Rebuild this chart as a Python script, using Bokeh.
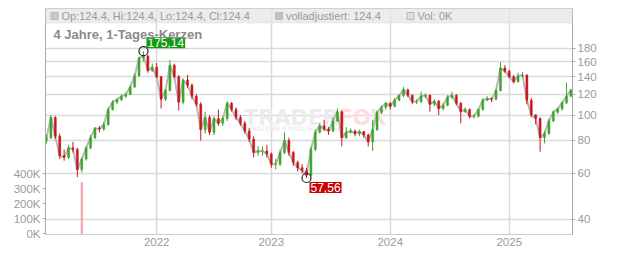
import math
from bokeh.plotting import figure
from bokeh.models import (Range1d, LinearAxis, FixedTicker, Label, BoxAnnotation,
                          ColumnDataSource, PrintfTickFormatter, LinearScale)
from bokeh.embed import file_html
from bokeh.resources import INLINE

# ---------------- data ----------------
opens = [80, 82, 98, 83, 70, 69, 75, 74, 62, 68,
         75, 82, 89, 88.5, 92, 105, 112, 114.5, 118, 120,
         128, 141, 165, 168, 148, 152, 140, 115, 124, 155,
         140, 112, 136, 130, 118, 110, 88, 98, 86, 97,
         93, 97, 111, 105, 98, 93, 87, 81, 72, 73,
         73, 71, 65, 65, 72, 80, 72, 66, 63, 61.5,
         59, 74, 86, 91, 88.5, 87, 95, 103, 82, 86,
         87, 85, 86.5, 84, 79, 88, 102.5, 107, 111, 108,
         114, 118.7, 125, 119, 112.5, 112.5, 118, 119, 110, 113,
         106, 109, 117, 119, 111, 103, 105, 99, 99, 105,
         114, 115.5, 115, 124, 151, 147, 140, 134, 141, 142,
         114, 100, 97, 82, 85, 95, 102.6, 105.6, 111.5, 118]
highs = [84, 100, 99, 85, 74, 77, 79, 75, 69, 76,
         84, 90, 91, 94, 107, 114, 116, 120, 122, 130,
         144, 167, 175.14, 170, 157, 158, 141, 126, 162, 157,
         142, 138, 142, 132, 120, 112, 103, 100, 99, 105,
         99, 113, 112, 107, 100, 95, 89, 83, 76, 76,
         77, 72, 68, 74, 86, 82, 73, 67, 65, 63,
         76, 88, 93, 96, 90, 98, 106, 104, 90, 89,
         88, 88, 87, 85, 96, 104, 109, 112, 112, 116,
         120, 128, 126, 120, 115, 123, 121, 120, 115, 114,
         111, 119, 123, 120, 112, 107, 106, 101, 106, 116,
         118, 117, 126, 159, 155, 149, 142, 145, 146, 143,
         116, 101, 98, 87, 97, 104, 107, 113, 133, 126]
lows = [78, 81, 81, 68, 67, 68, 72, 58, 60.5, 67,
        74, 81, 86, 87, 91, 104, 110, 113, 116, 119,
        127, 140, 160, 145, 146, 138, 106, 113, 123, 138,
        104, 110, 127, 115, 108, 80, 85, 84, 84, 91,
        91, 95, 103, 96, 91, 85, 79, 69, 70, 70,
        69, 63, 62, 64, 71, 70, 64, 61, 60, 57.56,
        58.5, 73, 85, 87, 84, 86, 94, 76, 81, 85,
        83, 83, 82, 76, 73, 87, 101, 105, 105, 107,
        113, 117, 117, 110, 110, 111, 116, 103, 108, 100,
        104, 108, 115, 109, 93, 102, 97, 97, 98, 104,
        113, 112, 114, 123, 145, 138, 132, 133, 139, 110,
        98, 92, 72.5, 78, 84, 94, 101, 104, 110, 117]
closes = [82, 98, 83, 70, 69, 75, 74, 62, 68, 75,
          82, 89, 88.5, 92, 105, 112, 114.5, 118, 120, 128,
          141, 165, 168, 148, 152, 140, 115, 124, 155, 140,
          112, 136, 130, 118, 110, 88, 98, 86, 97, 93,
          97, 111, 105, 98, 93, 87, 81, 72, 73, 73,
          71, 65, 65, 72, 80, 72, 66, 63, 61.5, 59,
          74, 86, 91, 88.5, 87, 95, 103, 82, 86, 87,
          85, 86.5, 84, 79, 88, 102.5, 107, 111, 108, 114,
          118.7, 125, 119, 112.5, 112.5, 118, 119, 110, 113, 106,
          109, 117, 119, 111, 103, 105, 99, 99, 105, 114,
          115.5, 115, 124, 151, 147, 140, 134, 141, 142, 114,
          100, 97, 82, 85, 95, 102.6, 105.6, 111.5, 118, 124.4]
candle_index = list(range(len(closes)))

year_labels = ["2022", "2023", "2024", "2025"]
year_first_candle = [25, 51, 78, 105]
price_ticks = [40, 60, 80, 100, 120, 140, 160, 180]
volume_ticks = [0, 100000, 200000, 300000, 400000]
volume_tick_labels = ["0K", "100K", "200K", "300K", "400K"]
volume_candle = [8]
volume_values = [340000]

# ---------------- layout constants ----------------
W, H = 632, 253
FRAME_L, FRAME_R, FRAME_T, FRAME_B = 45, 572, 8, 234
X_LO, X_HI = -0.227, 119.35
Y_LO, Y_HI = 35.06, 254.8
VOL_LO, VOL_HI = -6000, 1500000
FONT = "Liberation Sans"
GREEN, RED = "#3da52a", "#c8161d"


def x_at(px):
    return X_LO + (px - FRAME_L) / (FRAME_R - FRAME_L) * (X_HI - X_LO)


def y_at(py):
    return math.exp(math.log(Y_LO) + (FRAME_B - py) / (FRAME_B - FRAME_T)
                    * (math.log(Y_HI) - math.log(Y_LO)))


p = figure(width=W, height=H, x_range=Range1d(X_LO, X_HI), y_range=Range1d(Y_LO, Y_HI),
           y_axis_type="log", y_axis_location="right", toolbar_location=None,
           output_backend="svg",
           min_border_left=FRAME_L, min_border_right=W - FRAME_R,
           min_border_top=FRAME_T, min_border_bottom=H - FRAME_B)
p.outline_line_color = "#cccccc"
p.background_fill_color = "white"
p.border_fill_color = "white"

# price axis (right)
yax = p.yaxis[0]
price_ticker = FixedTicker(ticks=price_ticks, minor_ticks=[])
yax.ticker = price_ticker
yax.formatter = PrintfTickFormatter(format="%d")
# x axis
xax = p.xaxis[0]
year_ticker = FixedTicker(ticks=year_first_candle, minor_ticks=[])
xax.ticker = year_ticker
xax.major_label_overrides = {k: v for k, v in zip(year_first_candle, year_labels)}
xax.major_tick_out = 0
xax.major_tick_in = 0
xax.major_label_standoff = 3
xax.axis_line_color = "#cccccc"

# volume axis (left), linear
p.extra_y_ranges = {"vol": Range1d(VOL_LO, VOL_HI)}
p.extra_y_scales = {"vol": LinearScale()}
vax = LinearAxis(y_range_name="vol", ticker=FixedTicker(ticks=volume_ticks, minor_ticks=[]),
                 major_label_overrides={k: v for k, v in zip(volume_ticks, volume_tick_labels)})
p.add_layout(vax, "left")

for ax in (yax, vax):
    ax.axis_line_color = "#aaaaaa"
    ax.major_tick_line_color = "#aaaaaa"
    ax.major_tick_out = 3
    ax.major_tick_in = 0
    ax.major_label_standoff = 2
for ax in (yax, xax, vax):
    ax.major_label_text_color = "#9a9a9a"
    ax.major_label_text_font = FONT
    ax.major_label_text_font_size = "11.5px"
    ax.minor_tick_line_color = None

p.ygrid.ticker = price_ticker
p.xgrid.ticker = year_ticker
for g in (p.xgrid[0], p.ygrid[0]):
    g.grid_line_color = "#d9d9d9"
    g.grid_line_width = 1.5

# watermark
wm_y = y_at(117)
p.add_layout(Label(x=x_at(338), y=wm_y, text="TRADER", text_font="DejaVu Sans",
                   text_font_style="bold", text_font_size="21px", text_color="#ececec",
                   text_align="right", text_baseline="middle", level="underlay"))
p.add_layout(Label(x=x_at(338), y=wm_y, text="FOX", text_font="DejaVu Sans",
                   text_font_style="bold", text_font_size="21px", text_color="#fcdde1",
                   text_align="left", text_baseline="middle", level="underlay"))
p.add_layout(Label(x=x_at(247), y=y_at(128), text="REALTIME STOCK SCREENER", text_font=FONT,
                   text_font_style="bold", text_font_size="6.5px", text_color="#ededed",
                   text_align="left", text_baseline="middle", level="underlay"))

# header strip
p.add_layout(BoxAnnotation(left=X_LO, right=X_HI, bottom=y_at(22.5), top=Y_HI,
                           fill_color="#e6e6e6", fill_alpha=0.75,
                           line_color="#cccccc", line_width=1))

# volume
p.vbar(x=volume_candle, top=volume_values, bottom=0, width=0.25,
       y_range_name="vol", color="#f2a2aa")

# adjusted close line + candles
p.line(candle_index, closes, color="#b8b8b8", line_width=2)
colors = [GREEN if c >= o else RED for o, c in zip(opens, closes)]
src = ColumnDataSource(dict(x=candle_index, o=opens, h=highs, l=lows, c=closes, color=colors))
p.segment(x0="x", y0="h", x1="x", y1="l", line_color="color", line_width=1, source=src)
p.vbar(x="x", width=0.45, top="o", bottom="c", fill_color="color", line_color="color",
       line_width=0.5, source=src)

# extreme markers
i_max = max(range(len(highs)), key=lambda i: highs[i])
i_min = min(range(len(lows)), key=lambda i: lows[i])
p.scatter([i_max, i_min], [highs[i_max], lows[i_min]], marker="circle", size=9,
          fill_alpha=0, line_color="#222222", line_width=1.2)
p.add_layout(Label(x=i_max, y=highs[i_max], x_offset=3, y_offset=3,
                   text=f"{highs[i_max]:.2f}".replace(".", ","), text_font=FONT,
                   text_font_size="12px", text_color="white", text_align="left",
                   text_baseline="bottom", background_fill_color="#139a13",
                   background_fill_alpha=1, padding=1))
p.add_layout(Label(x=i_min, y=lows[i_min], x_offset=3, y_offset=-4,
                   text=f"{lows[i_min]:.2f}".replace(".", ","), text_font=FONT,
                   text_font_size="12px", text_color="white", text_align="left",
                   text_baseline="top", background_fill_color="#cc0000",
                   background_fill_alpha=1, padding=1))

# header legend
last = closes[-1]
p.scatter([x_at(54), x_at(278.5), x_at(410)], [y_at(15.5)] * 3, marker="square", size=7,
          fill_color=["#2fa82f", "#5a5a5a", "#b9e3b3"], line_color="#333333", line_width=1)
p.add_layout(Label(x=x_at(61), y=y_at(15.5),
                   text=f"Op:{last:.1f}, Hi:{last:.1f}, Lo:{last:.1f}, Cl:{last:.1f}",
                   text_font=FONT, text_font_size="11px", text_color="#9a9a9a",
                   text_baseline="middle"))
p.add_layout(Label(x=x_at(285.5), y=y_at(15.5), text=f"volladjustiert: {last:.1f}",
                   text_font=FONT, text_font_size="11px", text_color="#9a9a9a",
                   text_baseline="middle"))
p.add_layout(Label(x=x_at(417), y=y_at(15.5), text="Vol: 0K",
                   text_font=FONT, text_font_size="11px", text_color="#9a9a9a",
                   text_baseline="middle"))
# title
p.add_layout(Label(x=x_at(53), y=y_at(33.5), text="4 Jahre, 1-Tages-Kerzen",
                   text_font=FONT, text_font_style="bold", text_font_size="13px",
                   text_color="#8a8a8a", text_baseline="middle"))

open("out.html", "w").write(file_html(p, INLINE))
